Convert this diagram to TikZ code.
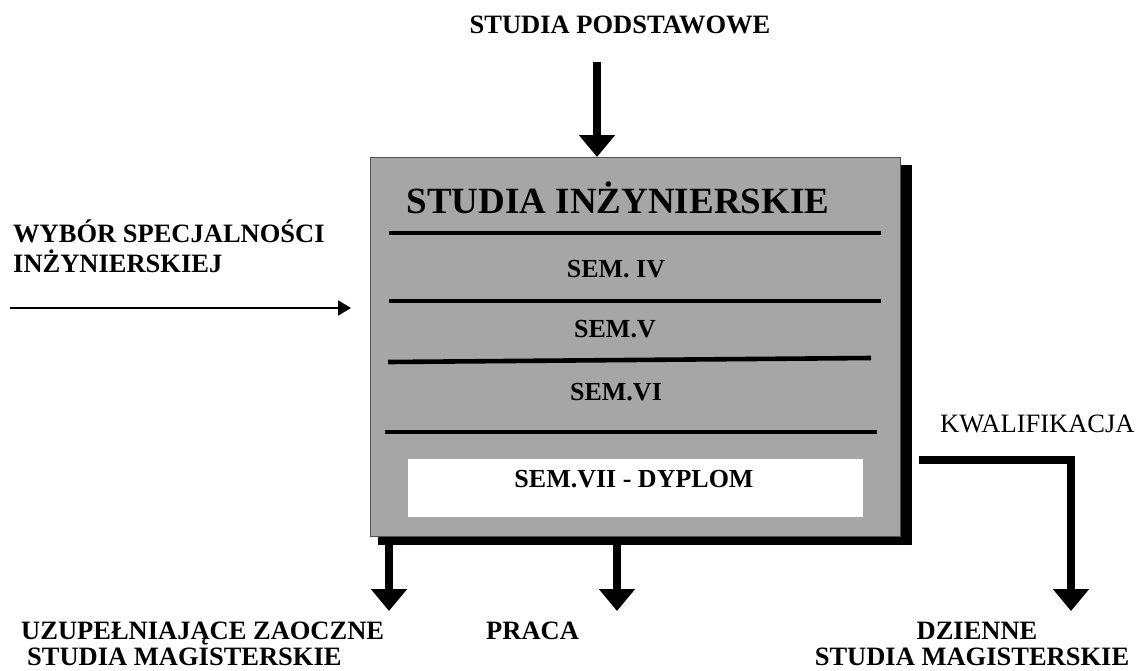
\documentclass[tikz,border=0pt]{standalone}
\usepackage{fontspec}
\setmainfont{Liberation Serif}
\usetikzlibrary{arrows.meta}
\definecolor{boxgray}{RGB}{166,166,166}
\definecolor{edgegray}{RGB}{80,80,80}
\begin{document}
\begin{tikzpicture}[x=1pt,y=-1pt,
  lbl/.style={inner sep=0pt, text depth=0pt, font=\fontsize{26.5}{30}\selectfont\bfseries, anchor=base},
  lbll/.style={lbl, anchor=base west},
  sem/.style={inner sep=0pt, font=\fontsize{26}{30}\selectfont\bfseries, anchor=base},
  divider/.style={line width=4.6pt},
  bigarrow/.style={line width=8.5pt, -{Triangle[length=22pt,width=35pt]}},
  thinarrow/.style={line width=2pt, -{Triangle[length=13pt,width=15pt]}},
]
\useasboundingbox (0,0) rectangle (1141,670);

% shadow and main box
\fill[black] (378,165) rectangle (912,545);
\node (box) [draw=edgegray, line width=1pt, fill=boxgray, minimum width=530pt, minimum height=379pt,
  anchor=north west, inner sep=0pt] at (370,157) {};
\node (dyplombox) [fill=white, minimum width=455pt, minimum height=58pt, anchor=north west, inner sep=0pt]
  at (408,459) {};

% dividers
\draw[divider] (389,233) -- (881,233);
\draw[divider] (389,301) -- (881,301);
\draw[divider] (388,362) -- (871,358);
\draw[divider] (385,432) -- (877,432);

% box texts
\node (title) [inner sep=0pt, font=\fontsize{37}{40}\selectfont\bfseries, anchor=base] at (618,213) {STUDIA INŻYNIERSKIE};
\node (s4) [sem] at (616,277) {SEM. IV};
\node (s5) [sem] at (615,337) {SEM.V};
\node (s6) [sem] at (616,400) {SEM.VI};
\node (s7) [sem] at (634,487) {SEM.VII - DYPLOM};

% outside labels
\node (podst) [lbl] at (620,33) {STUDIA PODSTAWOWE};
\node (wyb1) [lbll] at (13,242) {WYBÓR SPECJALNOŚCI};
\node (wyb2) [lbll] at (13,272) {INŻYNIERSKIEJ};
\node (kwal) [inner sep=0pt, font=\fontsize{26.5}{30}\selectfont, anchor=base west] at (940,432) {KWALIFIKACJA};
\node (uz1) [lbll] at (21,639) {UZUPEŁNIAJĄCE ZAOCZNE};
\node (uz2) [lbll] at (27,665) {STUDIA MAGISTERSKIE};
\node (praca) [lbll] at (486,639) {PRACA};
\node (dz1) [lbl] at (977,639) {DZIENNE};
\node (dz2) [lbl] at (972,665) {STUDIA MAGISTERSKIE};

% connectors
\coordinate (topstart) at (597,62);
\draw[bigarrow] (topstart) -- (topstart |- box.north);

\coordinate (wystart) at (10,308);
\coordinate (wyend) at (351,308);
\draw[thinarrow] (wystart) -- (wyend);

\coordinate (uztip) at (389,611);
\draw[bigarrow] (uztip |- box.south) -- (uztip);
\coordinate (pracatip) at (617,611);
\draw[bigarrow] (pracatip |- box.south) -- (pracatip);

\coordinate (kwstart) at (919,460);
\coordinate (dztip) at (1071,611);
\draw[bigarrow, line join=miter] (kwstart) -| (dztip);
\end{tikzpicture}
\end{document}
